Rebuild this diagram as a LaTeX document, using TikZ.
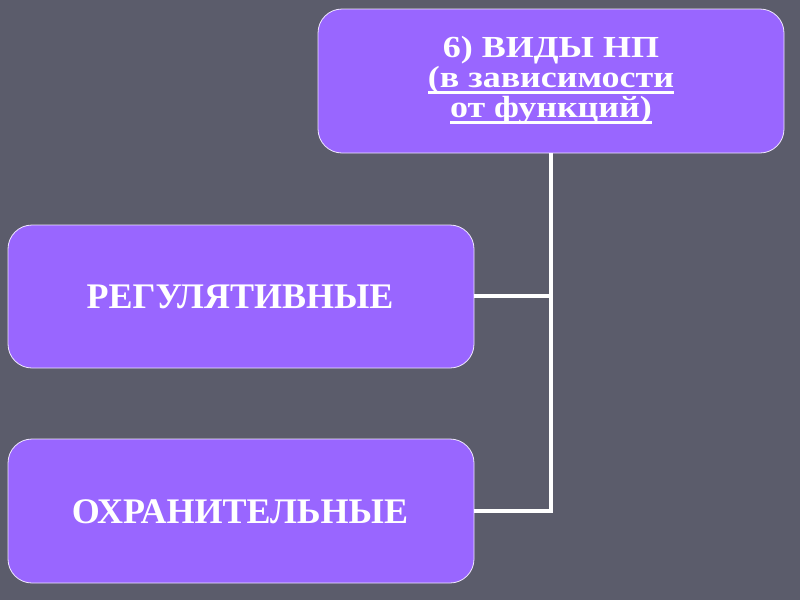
\documentclass[tikz,border=0pt]{standalone}
\usepackage{fontspec}
\setmainfont{Liberation Serif}
\newcommand\myul[1]{\leavevmode\setbox0\hbox{#1}\rlap{\rule[-8pt]{\wd0}{3pt}}\box0}
\definecolor{bg}{HTML}{5B5C6B}
\definecolor{boxfill}{HTML}{9966FF}
\begin{document}
\begin{tikzpicture}[x=1pt,y=-1pt,
  box/.style={draw=white!85!boxfill, line width=0.8pt, fill=boxfill, rounded corners=24pt},
  lbl/.style={text=white, font=\bfseries\fontsize{36}{40}\selectfont, align=center, inner sep=0pt},
  conn/.style={draw=white, line width=4pt}]
\fill[bg] (0,0) rectangle (800,600);
\useasboundingbox (0,0) rectangle (800,600);
\draw[box] (318,9) rectangle (784,153);
\draw[box] (8,225) rectangle (474,368);
\draw[box] (8,439) rectangle (474,583);
\node[lbl] (top) at (551,81) {\scalebox{1}[0.85]{\fontsize{36}{34.5}\selectfont\begin{tabular}{@{}c@{}}6) ВИДЫ НП\\\myul{(в зависимости}\\\myul{от функций)}\end{tabular}}};
\node[lbl, anchor=base] (reg) at (240,308) {РЕГУЛЯТИВНЫЕ};
\node[lbl, anchor=base] (ohr) at (240,523) {ОХРАНИТЕЛЬНЫЕ};
\coordinate (topb) at (551,153);
\coordinate (j1) at (551,296);
\coordinate (j2) at (551,511);
\coordinate (r1) at (474,296);
\coordinate (r2) at (474,511);
\draw[conn] (topb) -- (j2) -- (r2);
\draw[conn] (j1) -- (r1);
\end{tikzpicture}
\end{document}
